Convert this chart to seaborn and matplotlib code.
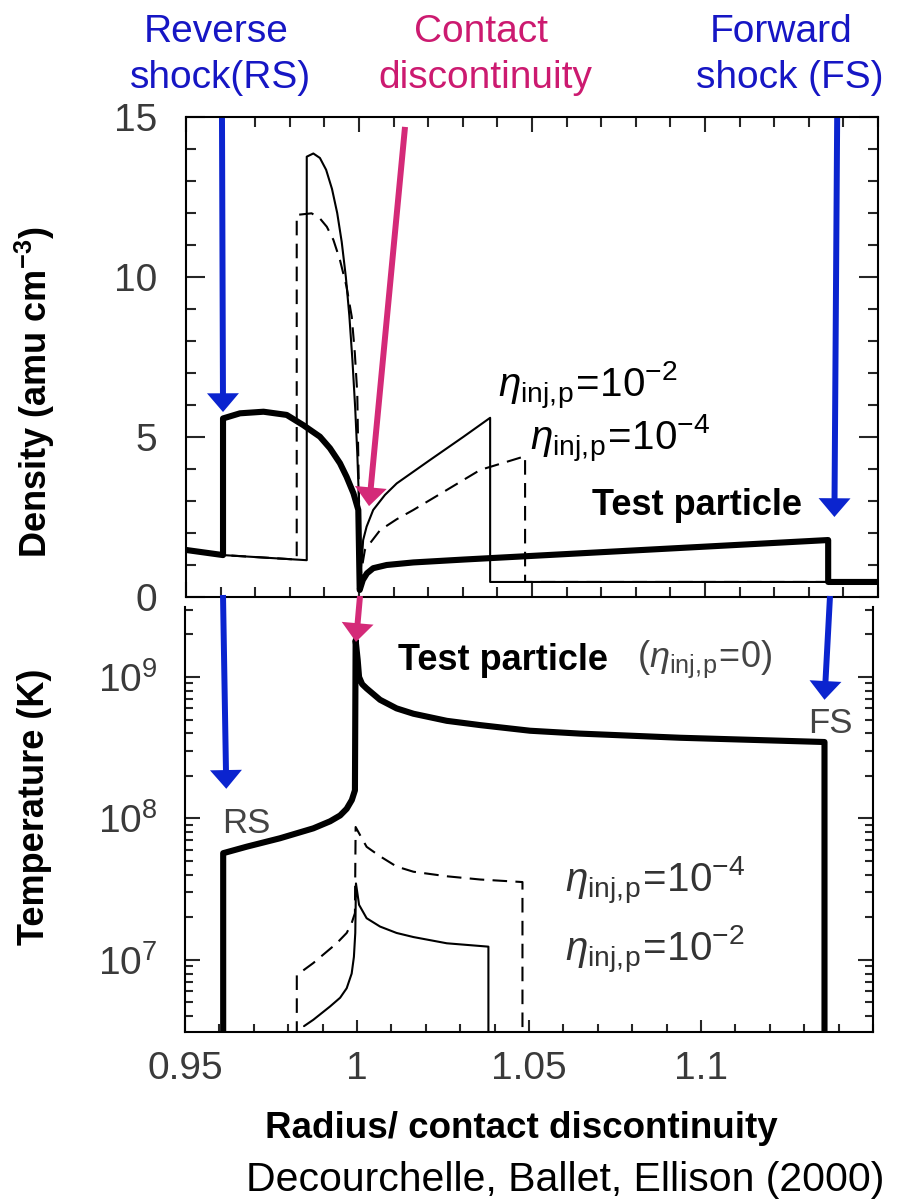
import matplotlib
matplotlib.use("Agg")
import matplotlib.pyplot as plt
from matplotlib.ticker import MultipleLocator, FixedLocator, FixedFormatter, LogLocator, NullFormatter
import seaborn as sns

# ---------------------------------------------------------------------------
# Radius is in units of the contact discontinuity radius.
# Density profiles (amu cm^-3)
# ---------------------------------------------------------------------------
# test particle (eta_inj,p = 0)
r_dens_tp = [0.950, 0.9607, 0.9607, 0.9656, 0.9724, 0.9791, 0.9839, 0.9887, 0.9916,
             0.9945, 0.9964, 0.9984, 0.9998, 1.0002, 1.0011, 1.0023, 1.0041, 1.0080,
             1.0157, 1.0302, 1.1356, 1.1356, 1.150]
dens_tp = [1.47, 1.31, 5.58, 5.74, 5.79, 5.69, 5.37, 5.01, 4.65,
           4.18, 3.76, 3.24, 2.72, 0.22, 0.53, 0.74, 0.90, 1.00,
           1.08, 1.17, 1.78, 0.47, 0.47]

# eta_inj,p = 1e-2
r_dens_e2 = [0.950, 0.9607, 0.9849, 0.9849, 0.9868, 0.9887, 0.9905, 0.9922, 0.9937,
             0.9950, 0.9962, 0.9972, 0.9981, 0.9989, 0.9995, 1.0000, 1.0001, 1.0008,
             1.0012, 1.0022, 1.0041, 1.0075, 1.0109, 1.0205, 1.0301, 1.0379, 1.0379, 1.150]
dens_e2 = [1.47, 1.31, 1.15, 13.76, 13.86, 13.72, 13.35, 12.75, 12.00,
           11.10, 10.00, 8.80, 7.40, 5.90, 4.50, 3.00, 0.45, 1.16,
           1.78, 2.20, 2.72, 3.19, 3.55, 4.28, 5.00, 5.60, 0.47, 0.47]

# eta_inj,p = 1e-4
r_dens_e4 = [0.950, 0.9607, 0.9820, 0.9820, 0.9863, 0.9887, 0.9907, 0.9926, 0.9945,
             0.9964, 0.9979, 0.9988, 0.9995, 1.0000, 1.0001, 1.0017, 1.0061, 1.0109,
             1.0157, 1.0253, 1.0350, 1.0480, 1.0480, 1.150]
dens_e4 = [1.47, 1.31, 1.17, 11.94, 11.99, 11.83, 11.57, 11.16, 10.53,
           9.70, 8.76, 7.61, 6.36, 3.00, 0.45, 1.47, 2.09, 2.43,
           2.72, 3.34, 3.97, 4.40, 0.47, 0.47]

# ---------------------------------------------------------------------------
# Temperature profiles (K)
# ---------------------------------------------------------------------------
r_temp_tp = [0.9611, 0.9611, 0.9679, 0.9776, 0.9873, 0.9922, 0.9951, 0.9970, 0.9985,
             0.9994, 0.9996, 1.0002, 1.0006, 1.0015, 1.0028, 1.0067, 1.0115, 1.0164,
             1.0261, 1.0358, 1.0503, 1.0648, 1.0939, 1.1359, 1.1359]
temp_tp = [2.0e6, 5.68e7, 6.31e7, 7.24e7, 8.51e7, 9.55e7, 1.05e8, 1.17e8, 1.35e8,
           1.58e8, 1.82e9, 1.32e9, 1.0e9, 8.9e8, 8.3e8, 6.9e8, 6.0e8, 5.5e8,
           4.9e8, 4.57e8, 4.17e8, 3.98e8, 3.72e8, 3.47e8, 2.0e6]

# eta_inj,p = 1e-4
r_temp_e4 = [0.9825, 0.9825, 0.9873, 0.9941, 0.9970, 0.99845, 0.9994, 0.9996, 1.0006,
             1.0028, 1.0067, 1.0115, 1.0164, 1.0261, 1.0358, 1.0481, 1.0481]
temp_e4 = [2.0e6, 7.8e6, 9.5e6, 1.31e7, 1.55e7, 1.82e7, 2.14e7, 8.7e7, 7.85e7,
           6.3e7, 5.4e7, 4.57e7, 4.2e7, 3.9e7, 3.7e7, 3.55e7, 2.0e6]

# eta_inj,p = 1e-2
r_temp_e2 = [0.9846, 0.9873, 0.99215, 0.9951, 0.9970, 0.99845, 0.9991, 0.9995, 0.9997,
             1.0006, 1.0028, 1.0067, 1.0115, 1.0164, 1.0261, 1.0382, 1.0382]
temp_e2 = [3.4e6, 3.77e6, 4.68e6, 5.4e6, 6.3e6, 8.0e6, 1.05e7, 1.55e7, 3.47e7,
           2.45e7, 1.97e7, 1.72e7, 1.55e7, 1.45e7, 1.31e7, 1.24e7, 2.0e6]

# axis ticks
x_tick_values = [0.95, 1.0, 1.05, 1.1]
x_tick_labels = ["0.95", "1", "1.05", "1.1"]
dens_tick_values = [0, 5, 10, 15]

# shock positions used by the annotation arrows
r_rs = 0.9607
r_cd = 1.0
r_fs = 1.1356

# ---------------------------------------------------------------------------
sns.set_style("ticks")
plt.rcParams["font.family"] = ["Liberation Sans", "DejaVu Sans"]
plt.rcParams["mathtext.fontset"] = "custom"
plt.rcParams["mathtext.rm"] = "Liberation Sans"
plt.rcParams["mathtext.it"] = "Liberation Sans:italic"
plt.rcParams["mathtext.bf"] = "Liberation Sans:bold"
plt.rcParams["axes.linewidth"] = 1.5
plt.rcParams["text.color"] = "black"
plt.rcParams["axes.edgecolor"] = "black"

W, H = 903, 1202
fig = plt.figure(figsize=(W / 100, H / 100), dpi=100)
fig.patch.set_facecolor("white")


def fx(px):
    return px / W


def fy(py):
    return 1 - py / H


ax1 = fig.add_axes([fx(186), fy(597), 692 / W, 480 / H])
ax2 = fig.add_axes([fx(185), fy(1032), 688 / W, 425 / H])

THICK, THIN = 4.4, 1.5
TICK_GREY = "#3a3a3a"
BLUE = "#0b24cf"
BLUE_TXT = "#1616c4"
MAGENTA = "#d42a78"


def draw(ax, r, v, lw, dashed=False):
    sns.lineplot(x=r, y=v, ax=ax, sort=False, estimator=None, color="black",
                 lw=lw, legend=False)
    line = ax.lines[-1]
    if dashed:
        line.set_dashes([7, 4])


# ----- density panel -----
draw(ax1, r_dens_e4, dens_e4, THIN, dashed=True)
draw(ax1, r_dens_e2, dens_e2, THIN)
draw(ax1, r_dens_tp, dens_tp, THICK)

ax1.set_xlim(0.95, 1.15)
ax1.set_ylim(0, 15)
ax1.xaxis.set_major_locator(FixedLocator(x_tick_values))
ax1.xaxis.set_minor_locator(MultipleLocator(0.01))
ax1.yaxis.set_major_locator(FixedLocator(dens_tick_values))
ax1.yaxis.set_minor_locator(MultipleLocator(1))
ax1.tick_params(axis="x", which="both", direction="in", top=True, bottom=True,
                labelbottom=False, width=1.5)
ax1.tick_params(axis="x", which="major", length=11)
ax1.tick_params(axis="x", which="minor", length=7)
ax1.tick_params(axis="y", which="both", direction="in", left=True, right=True, width=1.5)
ax1.tick_params(axis="y", which="major", length=14, pad=21, labelsize=28,
                labelcolor=TICK_GREY)
ax1.tick_params(axis="y", which="minor", length=7)
ax1.set_xlabel("")
ax1.set_ylabel("")

eta_kw = dict(fontsize=29, ha="left", va="baseline", color="black")
ax1.text(1.0402, 6.25, r"$\eta_{\rm inj,\!p}\!=\!10^{-2}$", **eta_kw)
ax1.text(1.0494, 4.59, r"$\eta_{\rm inj,\!p}\!=\!10^{-4}$", **eta_kw)
ax1.text(1.0673, 2.56, "Test particle", fontsize=26, fontweight="bold",
         ha="left", va="baseline")

# ----- temperature panel -----
draw(ax2, r_temp_e4, temp_e4, THIN, dashed=True)
draw(ax2, r_temp_e2, temp_e2, THIN)
draw(ax2, r_temp_tp, temp_tp, THICK)

ax2.set_yscale("log")
ax2.set_xlim(0.95, 1.15)
ax2.set_ylim(10 ** 6.49, 10 ** 9.495)
ax2.spines["top"].set_visible(False)
ax2.xaxis.set_major_locator(FixedLocator(x_tick_values))
ax2.xaxis.set_major_formatter(FixedFormatter(x_tick_labels))
ax2.xaxis.set_minor_locator(MultipleLocator(0.01))
ax2.yaxis.set_major_locator(LogLocator(base=10))
ax2.yaxis.set_minor_locator(LogLocator(base=10, subs=range(2, 10)))
ax2.yaxis.set_minor_formatter(NullFormatter())
ax2.tick_params(axis="x", which="both", direction="in", top=False, bottom=True, width=1.5)
ax2.tick_params(axis="x", which="major", length=9, pad=14, labelsize=28,
                labelcolor=TICK_GREY)
ax2.tick_params(axis="x", which="minor", length=6)
ax2.tick_params(axis="y", which="both", direction="in", left=True, right=True, width=1.5)
ax2.tick_params(axis="y", which="major", length=11, pad=20, labelsize=28,
                labelcolor=TICK_GREY)
ax2.tick_params(axis="y", which="minor", length=6)
ax2.set_xlabel("")
ax2.set_ylabel("")

ax2.text(1.0119, 1.12e9, "Test particle", fontsize=26, fontweight="bold",
         ha="left", va="baseline")
ax2.text(1.0814, 1.18e9, r"$(\eta_{\rm inj,\!p}\!=\!0)$", fontsize=26,
         ha="left", va="baseline", color="#444444")
ax2.text(1.1311, 4.02e8, "FS", fontsize=25, ha="left", va="baseline", color="#444444")
ax2.text(0.9608, 7.9e7, "RS", fontsize=25, ha="left", va="baseline", color="#444444")
ax2.text(1.0605, 3.0e7, r"$\eta_{\rm inj,\!p}\!=\!10^{-4}$", fontsize=29,
         ha="left", va="baseline", color="#333333")
ax2.text(1.0605, 9.8e6, r"$\eta_{\rm inj,\!p}\!=\!10^{-2}$", fontsize=29,
         ha="left", va="baseline", color="#333333")

# ----- axis titles and caption -----
fig.text(fx(35), fy(392), r"Density (amu cm$^{\mathbf{-3}}$)", rotation=90,
         fontsize=26, fontweight="bold", ha="center", va="center")
fig.text(fx(35), fy(807), "Temperature (K)", rotation=90,
         fontsize=26, fontweight="bold", ha="center", va="center")
fig.text(fx(521), fy(1128), "Radius/ contact discontinuity", fontsize=26.5,
         fontweight="bold", ha="center", va="center")
fig.text(fx(565), fy(1180), "Decourchelle, Ballet, Ellison (2000)", fontsize=29.5,
         ha="center", va="center")

# ----- headings above the panels -----
head_kw = dict(fontsize=28, ha="center", va="baseline")
fig.text(fx(216), fy(42), "Reverse", color=BLUE_TXT, **head_kw)
fig.text(fx(221), fy(88), "shock(RS)", color=BLUE_TXT, **head_kw)
fig.text(fx(481), fy(42), "Contact", color="#cc1a70", **head_kw)
fig.text(fx(485), fy(88), "discontinuity", color="#cc1a70", **head_kw)
fig.text(fx(781), fy(42), "Forward", color=BLUE_TXT, **head_kw)
fig.text(fx(790), fy(88), "shock (FS)", color=BLUE_TXT, **head_kw)

# ----- arrows pointing at the shocks and the contact discontinuity -----
arrow_style = "simple,head_length=13.5,head_width=23,tail_width=4.3"


def arrow(ax, tip, tail, tail_coords, color):
    ax.annotate("", xy=tip, xycoords="data", xytext=tail, textcoords=tail_coords,
                arrowprops=dict(arrowstyle=arrow_style, mutation_scale=1, color=color,
                                lw=0, shrinkA=0, shrinkB=0),
                annotation_clip=False)


arrow(ax1, (r_rs, 5.78), (r_rs - 0.0003, 14.97), "data", BLUE)
arrow(ax2, (r_rs + 0.0013, 1.62e8), (fx(223), fy(595)), "figure fraction", BLUE)
arrow(ax1, (r_cd + 0.0029, 2.84), (r_cd + 0.0133, 14.69), "data", MAGENTA)
arrow(ax2, (r_cd - 0.0003, 1.77e9), (fx(360), fy(596)), "figure fraction", MAGENTA)
arrow(ax1, (r_fs + 0.0018, 2.5), (r_fs + 0.0026, 14.97), "data", BLUE)
arrow(ax2, (r_fs + 0.0003, 6.9e8), (fx(830), fy(596)), "figure fraction", BLUE)

fig.savefig("out.png", dpi=100, facecolor="white")
